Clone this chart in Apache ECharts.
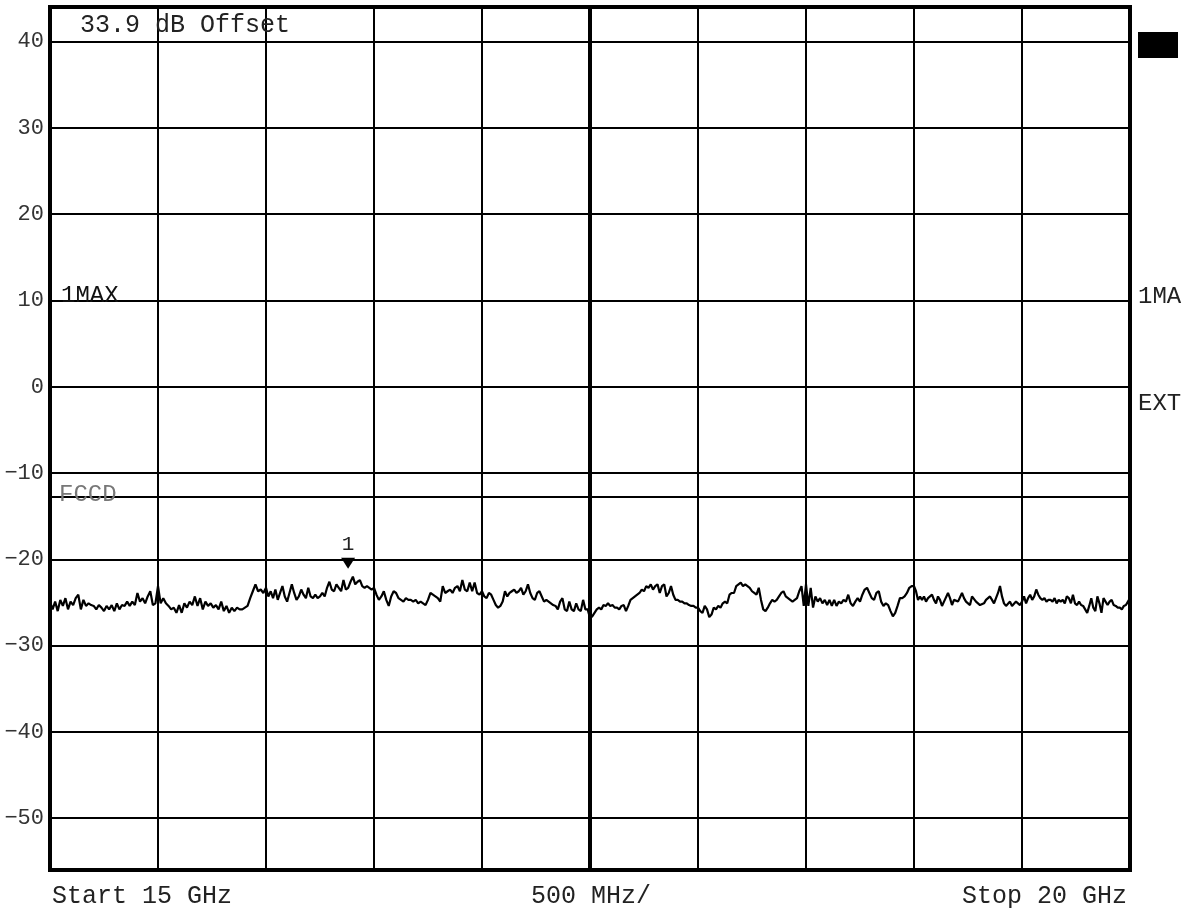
<!DOCTYPE html>
<html><head><meta charset="utf-8">
<script src="https://cdn.jsdelivr.net/npm/echarts@6/dist/echarts.min.js"></script>
<style>html,body{margin:0;padding:0;background:#fff;}#chart{width:1194px;height:914px;}</style>
</head><body><div id="chart"></div>
<script>
// Sweep settings
const startGHz = 15, stopGHz = 20, divGHz = 0.5;
const yMin = -56, yMax = 44;
const levelTicks = [40, 30, 20, 10, 0, -10, -20, -30, -40, -50];
const fccLimit = -12.8;
const centerGHz = 17.5;
const markerFreq = 16.38, markerLevel = -22.2;

// Trace readings (dBm) per 500 MHz division
const div1 = [-24.9,-25.8,-24.9,-26.0,-24.7,-25.4,-24.5,-25.8,-24.9,-25.3,-24.5,-24.1,-25.8,-24.7,-25.4,-25.1,-25.3,-25.4,-25.8,-25.3,-25.6,-26.0,-25.4,-25.8,-25.3,-26.0,-25.1,-25.8,-25.3,-25.4,-24.9,-25.4,-24.9,-25.3,-23.9,-24.9,-24.5,-25.1,-24.3,-23.7,-25.3,-25.1];
const div2 = [-23.1,-25.1,-24.5,-25.1,-25.4,-25.8,-25.6,-26.2,-25.3,-26.2,-25.1,-25.6,-24.9,-25.3,-24.3,-25.4,-24.5,-25.8,-24.9,-25.4,-25.1,-25.6,-25.3,-25.8,-24.9,-26.0,-25.4,-26.2,-25.6,-26.0,-25.6,-25.8,-25.8,-25.6,-25.4,-24.5,-23.7,-22.9,-23.7,-23.5,-23.9];
const div3 = [-23.3,-24.3,-23.7,-24.5,-23.5,-24.7,-23.9,-23.1,-24.3,-24.9,-23.9,-22.9,-23.9,-24.7,-24.3,-23.5,-24.1,-24.5,-23.3,-24.3,-24.5,-24.1,-24.5,-24.3,-23.9,-24.3,-23.3,-22.6,-23.5,-23.7,-22.9,-23.3,-23.7,-22.4,-23.5,-23.3,-22.6,-22.0,-22.9,-22.6,-22.4,-23.1,-23.3,-23.1,-23.3,-23.5];
const div4 = [-23.3,-24.1,-24.7,-24.3,-23.7,-24.7,-25.4,-24.3,-23.7,-23.9,-24.5,-24.7,-24.9,-24.5,-24.7,-24.7,-24.9,-24.7,-25.1,-24.9,-25.1,-25.3,-24.7,-23.9,-24.1,-24.3,-24.5,-24.9,-23.1,-23.9,-23.7,-23.5,-23.9,-23.3,-23.1,-23.7,-22.4,-23.5,-23.7,-22.7,-23.7,-22.7,-23.9,-24.1];
const div5 = [-23.7,-24.3,-24.5,-23.9,-24.1,-24.7,-25.3,-25.6,-25.4,-24.9,-23.7,-24.3,-23.9,-23.7,-23.5,-23.9,-23.7,-23.3,-24.1,-23.7,-22.9,-23.9,-24.5,-24.7,-23.9,-23.7,-24.3,-24.9,-24.7,-24.9,-25.1,-25.3,-25.4,-25.8,-24.9,-24.5,-25.8,-26.0,-24.9,-25.8,-26.0,-25.1,-25.8,-26.0,-24.7,-25.8,-25.8];
const div6 = [-26.8,-26.6,-26.2,-25.8,-25.6,-25.8,-25.3,-25.4,-25.1,-25.4,-25.3,-25.6,-25.6,-25.8,-25.4,-25.3,-26.0,-25.4,-24.7,-24.5,-24.3,-24.1,-23.9,-23.5,-23.7,-23.1,-23.3,-22.9,-23.5,-23.1,-22.9,-23.9,-23.1,-22.9,-24.3,-23.9,-23.1,-24.1,-24.7,-24.7,-24.9,-24.9,-25.1,-25.1,-25.3,-25.4,-25.4,-25.6];
const div7 = [-25.6,-26.0,-26.2,-25.4,-25.8,-26.7,-26.4,-25.6,-25.8,-25.4,-25.6,-25.1,-24.9,-25.1,-24.1,-23.9,-23.9,-23.1,-22.9,-22.7,-23.1,-22.9,-23.1,-23.3,-23.7,-23.9,-24.1,-23.3,-24.7,-25.8,-26.0,-25.6,-25.1,-24.7,-24.9,-24.7,-24.3,-23.9,-23.7,-24.3,-24.5,-24.7,-24.9,-24.7,-24.5,-23.7,-23.1,-25.4];
const div8 = [-22.9,-25.4,-23.3,-25.6,-24.3,-24.9,-24.5,-25.1,-24.7,-25.3,-24.7,-25.4,-24.7,-25.4,-24.9,-25.1,-24.7,-24.9,-24.1,-25.1,-25.4,-24.9,-24.5,-24.9,-24.1,-23.5,-23.3,-23.9,-24.5,-24.7,-23.9,-23.7,-24.9,-25.4,-25.1,-25.3,-26.0,-26.6,-26.2,-25.4,-24.5,-24.5,-24.3,-23.9,-23.3,-23.1];
const div9 = [-23.1,-23.7,-24.7,-24.3,-24.7,-24.3,-24.9,-24.5,-24.7,-24.1,-24.7,-25.1,-24.3,-24.7,-25.4,-24.9,-24.7,-23.9,-24.5,-25.3,-24.7,-24.5,-24.9,-25.1,-23.9,-24.5,-24.9,-25.1,-25.3,-24.3,-24.5,-24.9,-25.1,-25.3,-25.4,-25.1,-24.7,-24.5,-24.3,-24.7,-25.1,-24.9,-23.9,-23.1,-24.3,-25.1,-25.4,-25.3,-24.9,-25.4,-25.4,-24.9,-25.1,-25.3];
const div10 = [-24.9,-24.3,-25.1,-24.5,-24.1,-24.7,-24.3,-23.5,-24.1,-24.5,-24.7,-24.5,-24.9,-24.7,-24.7,-24.9,-24.5,-25.1,-24.7,-24.9,-24.7,-25.1,-24.3,-24.5,-25.1,-24.1,-25.1,-25.3,-24.9,-25.3,-25.4,-25.8,-26.2,-25.4,-24.5,-25.6,-26.0,-24.3,-25.1,-26.2,-24.5,-24.9,-25.3,-24.9,-24.7,-25.3,-25.4,-25.6,-25.6,-25.8,-25.4,-25.3,-24.9,-24.5];

// Text
const titleText = '33.9 dB Offset';
const startText = 'Start 15 GHz', spanText = '500 MHz/', stopText = 'Stop 20 GHz';

const divisions = [div1, div2, div3, div4, div5, div6, div7, div8, div9, div10];
const trace = [];
divisions.forEach((arr, d) => {
  const n = arr.length;
  const last = d === divisions.length - 1;
  arr.forEach((v, k) => {
    const f = startGHz + d * divGHz + k * divGHz / (last ? n - 1 : n);
    trace.push([f, v]);
  });
});

const FONT = "'Liberation Mono', 'DejaVu Sans Mono', monospace";
const TXT = '#222';
function txt(x, y, s, extra) {
  return {
    type: 'text', x: x, y: y, z: 100,
    style: Object.assign({ text: s, font: '25px ' + FONT, fill: TXT, textVerticalAlign: 'middle', textAlign: 'left' }, extra || {})
  };
}

const chart = echarts.init(document.getElementById('chart'), null, { renderer: 'canvas' });
chart.setOption({
  animation: false,
  backgroundColor: '#fff',
  grid: { left: 50, top: 7, width: 1080, height: 863, show: true, borderColor: '#000', borderWidth: 4, backgroundColor: 'transparent' },
  xAxis: {
    type: 'value', min: startGHz, max: stopGHz, interval: divGHz,
    axisLine: { show: false }, axisTick: { show: false }, axisLabel: { show: false },
    splitLine: { show: true, lineStyle: { color: '#000', width: 2 } }
  },
  yAxis: {
    type: 'value', min: yMin, max: yMax,
    axisLine: { show: false },
    axisTick: { show: false, customValues: levelTicks },
    axisLabel: {
      customValues: levelTicks, margin: 6, fontFamily: FONT, fontSize: 22, color: '#333',
      formatter: v => String(v).replace('-', '\u2212')
    },
    splitLine: { show: true, lineStyle: { color: '#000', width: 2 } }
  },
  graphic: [
    txt(80, 25, titleText),
    txt(61, 296, '1MAX', { font: '24px ' + FONT, fill: '#111' }),
    txt(59, 495, 'FCCD', { font: '24px ' + FONT, fill: '#777' }),
    txt(1138, 297, '1MA', { font: '24px ' + FONT }),
    txt(1138, 404, 'EXT', { font: '24px ' + FONT }),
    { type: 'rect', z: 100, shape: { x: 1138, y: 32, width: 40, height: 26 }, style: { fill: '#000' } },
    txt(52, 896, startText),
    txt(591, 896, spanText, { textAlign: 'center' }),
    txt(1127, 896, stopText, { textAlign: 'right' })
  ],
  series: [{
    type: 'line', data: trace, symbol: 'none', silent: true,
    lineStyle: { color: '#000', width: 2.2 },
    markLine: {
      silent: true, symbol: 'none', label: { show: false },
      data: [
        { xAxis: centerGHz, lineStyle: { color: '#000', width: 4, type: 'solid' } },
        { yAxis: fccLimit, lineStyle: { color: '#000', width: 2, type: 'solid' } }
      ]
    },
    markPoint: {
      silent: true,
      data: [{ coord: [markerFreq, markerLevel] }],
      symbol: 'path://M0,0L10,0L5,9Z', symbolSize: [14, 11], symbolOffset: [0, -15],
      itemStyle: { color: '#000' },
      label: { show: true, formatter: '1', position: 'top', distance: 3, fontFamily: FONT, fontSize: 21, color: '#222' }
    }
  }]
});
</script></body></html>
